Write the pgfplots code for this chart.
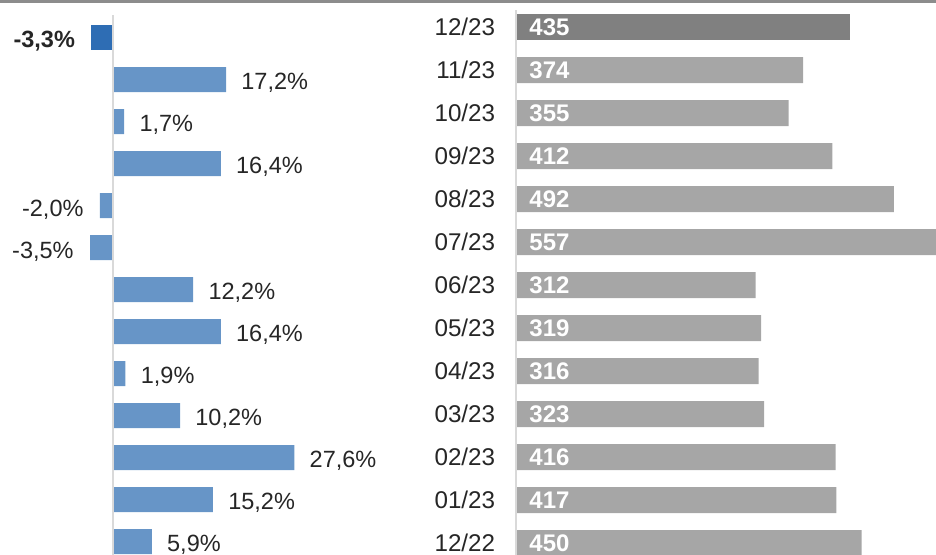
\documentclass[border=0pt]{standalone}
\usepackage{fontspec}
\setmainfont{Liberation Sans}
\usepackage{pgfplots}
\pgfplotsset{compat=1.18}
\definecolor{barblue}{HTML}{6795C7}
\definecolor{darkblue}{HTML}{2E6DB4}
\definecolor{bargrey}{HTML}{A6A6A6}
\definecolor{darkgrey}{HTML}{808080}
\definecolor{txt}{HTML}{262626}
\definecolor{axgrey}{HTML}{D9D9D9}
\definecolor{topline}{HTML}{8C8C8C}
\newcommand\lblfont{\fontsize{11.75pt}{14pt}\selectfont}
\newcommand\monfont{\fontsize{12.1pt}{14pt}\selectfont}
\newcommand\valfont{\fontsize{12pt}{14pt}\selectfont\bfseries}
\begin{document}
\begin{tikzpicture}
\useasboundingbox (0,0) rectangle (468pt,277.5pt);
\begin{scope}
\clip (0,0) rectangle (468pt,277.5pt);
% ---------- left panel: change in percent ----------
\begin{axis}[
  at={(0pt,0pt)}, anchor=south west,
  x=3.285pt, y=21pt, y dir=reverse,
  xmin=-17.2, xmax=46.7, ymin=-0.893, ymax=12.321,
  enlargelimits=false, hide axis, clip=false,
]
\addplot[xbar, bar width=12.5pt, bar shift=0pt, fill=darkblue, draw=none,
  point meta=explicit symbolic, nodes near coords,
  every node near coord/.append style={anchor=base east, xshift=-8pt, yshift=-4.9pt,
    font=\lblfont\bfseries, text=txt, inner sep=0pt}]
  coordinates {(-3.3,0) [-3,3\%]};
\addplot[xbar, bar width=12.5pt, bar shift=0pt, fill=barblue, draw=none,
  point meta=explicit symbolic, nodes near coords,
  every node near coord/.append style={anchor=base east, xshift=-8pt, yshift=-5.6pt,
    font=\lblfont, text=txt, inner sep=0pt}]
  coordinates {(-2.0,4) [-2,0\%] (-3.5,5) [-3,5\%]};
\addplot[xbar, bar width=12.5pt, bar shift=0pt, fill=barblue, draw=none,
  point meta=explicit symbolic, nodes near coords,
  every node near coord/.append style={anchor=base west, xshift=7.5pt, yshift=-5.2pt,
    font=\lblfont, text=txt, inner sep=0pt}]
  coordinates {
   (17.2,1) [17,2\%]
   (1.7,2) [1,7\%]
   (16.4,3) [16,4\%]
   (12.2,6) [12,2\%]
   (16.4,7) [16,4\%]
   (1.9,8) [1,9\%]
   (10.2,9) [10,2\%]
   (27.6,10) [27,6\%]
   (15.2,11) [15,2\%]
   (5.9,12) [5,9\%]
  };
\end{axis}
% ---------- right panel: absolute numbers ----------
\begin{axis}[
  at={(258pt,0pt)}, anchor=south west,
  x=0.384pt, y=21.5pt, y dir=reverse,
  xmin=0, xmax=546.9, ymin=-0.6395, ymax=12.2756,
  enlargelimits=false, clip=true,
  axis line style={draw=none}, xtick=\empty,
  ytick={0,...,12},
  yticklabels={12/23,11/23,10/23,09/23,08/23,07/23,06/23,05/23,04/23,03/23,02/23,01/23,12/22},
  major tick length=0pt, tick style={draw=none},
  yticklabel style={font=\monfont, text=txt, inner sep=0pt, anchor=east, xshift=-10.25pt},
]
\addplot[xbar, bar width=13pt, bar shift=0pt, fill=darkgrey, draw=none]
  coordinates {(435,0)};
\addplot[xbar, bar width=13pt, bar shift=0pt, fill=bargrey, draw=none]
  coordinates {(374,1) (355,2) (412,3) (492,4) (557,5) (312,6) (319,7) (316,8) (323,9) (416,10) (417,11) (450,12)};
\addplot[draw=none, mark=none, point meta=explicit symbolic, nodes near coords,
  every node near coord/.append style={anchor=base west, xshift=6.5pt, yshift=-4.3pt,
    font=\valfont, text=white, inner sep=0pt}]
  coordinates {(0,0)[435] (0,1)[374] (0,2)[355] (0,3)[412] (0,4)[492] (0,5)[557] (0,6)[312]
               (0,7)[319] (0,8)[316] (0,9)[323] (0,10)[416] (0,11)[417] (0,12)[450]};
\end{axis}
% axis lines and top rule
\draw[axgrey, line width=1pt] (56.5pt,0pt) -- (56.5pt,270pt);
\draw[axgrey, line width=1pt] (258pt,0pt) -- (258pt,272.5pt);
\fill[topline] (0pt,275.75pt) rectangle (468pt,277.5pt);
\end{scope}
\end{tikzpicture}
\end{document}
